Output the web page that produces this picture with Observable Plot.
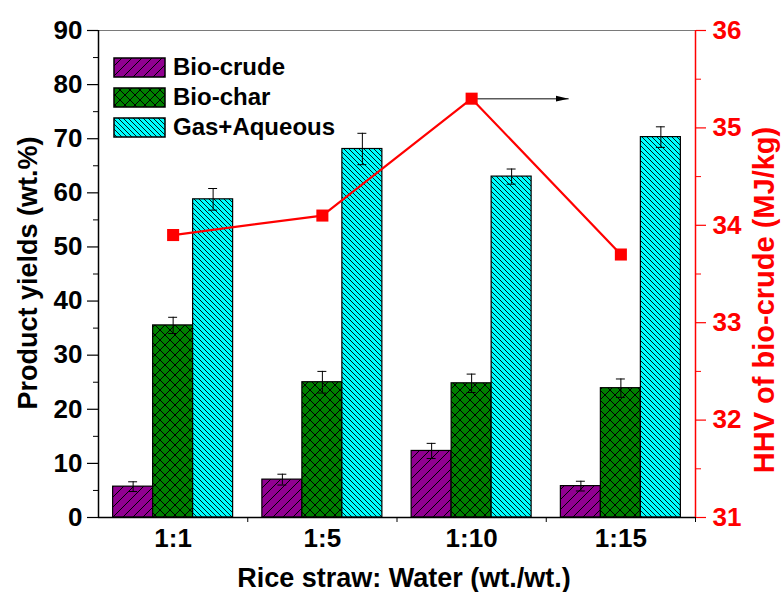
<!DOCTYPE html>
<html><head><meta charset="utf-8">
<script src="https://cdn.jsdelivr.net/npm/d3@7"></script>
<script src="https://cdn.jsdelivr.net/npm/@observablehq/plot@0.6"></script>
<style>
body{margin:0;background:#fff}
#chart svg{font-family:"Liberation Sans",Arial,sans-serif;}
</style>
</head><body><div id="chart"></div>
<script>
// ---- data ----
const ratios = ["1:1", "1:5", "1:10", "1:15"];
const seriesNames = ["Bio-crude", "Bio-char", "Gas+Aqueous"];
const bioCrude = [5.7, 7.0, 12.3, 5.8];
const bioCrudeErr = [0.9, 1.0, 1.4, 0.9];
const bioChar = [35.5, 25.0, 24.8, 23.9];
const bioCharErr = [1.5, 2.0, 1.7, 1.7];
const gasAqueous = [58.8, 68.1, 63.0, 70.3];
const gasAqueousErr = [2.0, 2.9, 1.4, 1.9];
const hhv = [33.9, 34.1, 35.3, 33.7];
const leftTicks = [0, 10, 20, 30, 40, 50, 60, 70, 80, 90];
const leftMinor = [5, 15, 25, 35, 45, 55, 65, 75, 85];
const rightTicks = [31, 32, 33, 34, 35, 36];
const rightMinor = [31.5, 32.5, 33.5, 34.5, 35.5];
const arrowEnd = 2.65; // group units, where the arrow to the right axis ends

// ---- derived tables ----
const barW = 0.268;
const values = [bioCrude, bioChar, gasAqueous];
const errs = [bioCrudeErr, bioCharErr, gasAqueousErr];
const patterns = ["url(#patCrude)", "url(#patChar)", "url(#patGas)"];
const bars = [];
seriesNames.forEach((s, k) => ratios.forEach((r, i) => {
  const x1 = i + (k - 1.5) * barW;
  bars.push({series: s, k, i, x1, x2: x1 + barW, xc: x1 + barW / 2, v: values[k][i], e: errs[k][i]});
}));
// right axis (HHV 31..36) mapped onto left axis (0..90)
const toLeft = v => (v - 31) * 18;
const fromLeft = y => y / 18 + 31;
const hhvRows = hhv.map((h, i) => ({i, y: toLeft(h)}));
const cap = 0.03;

const marks = [
  Plot.ruleY([90], {stroke: "#7a7a7a", strokeWidth: 1.2}),
  ...seriesNames.map((s, k) => Plot.rectY(bars.filter(d => d.k === k), {
    x1: "x1", x2: "x2", y1: 0, y2: "v", fill: patterns[k], stroke: "black", strokeWidth: 1.2
  })),
  Plot.ruleX(bars, {x: "xc", y1: d => d.v - d.e, y2: d => d.v + d.e, stroke: "black", strokeWidth: 1}),
  Plot.ruleY(bars, {y: d => d.v + d.e, x1: d => d.xc - cap, x2: d => d.xc + cap, stroke: "black", strokeWidth: 1}),
  Plot.ruleY(bars, {y: d => d.v - d.e, x1: d => d.xc - cap, x2: d => d.xc + cap, stroke: "black", strokeWidth: 1}),
  Plot.line(hhvRows, {x: "i", y: "y", stroke: "#ff0000", strokeWidth: 2.2}),
  Plot.link([{x1: 2, x2: arrowEnd, y: toLeft(hhv[2])}], {
    x1: "x1", x2: "x2", y1: "y", y2: "y", stroke: "#5a5a5a", strokeWidth: 1.5
  }),
  Plot.dot(hhvRows, {x: "i", y: "y", symbol: "square", r: 6.8, fill: "#ff0000", stroke: "none"}),
  // frame
  Plot.ruleX([-0.5], {stroke: "black", strokeWidth: 1.5}),
  Plot.ruleY([0], {stroke: "black", strokeWidth: 1.5}),
  Plot.ruleX([3.5], {stroke: "#ff0000", strokeWidth: 1.5}),
  // axes
  Plot.axisY(leftTicks, {anchor: "left", tickSize: 11, tickPadding: 5, tickFormat: d => d, strokeWidth: 1.2}),
  Plot.axisY(leftMinor, {anchor: "left", tickSize: 5, tickFormat: () => ""}),
  Plot.axisY(rightTicks.map(toLeft), {anchor: "right", tickSize: 10, tickPadding: 7, color: "#ff0000",
    tickFormat: y => Math.round(fromLeft(y)), strokeWidth: 1.2}),
  Plot.axisY(rightMinor.map(toLeft), {anchor: "right", tickSize: 5, color: "#ff0000", tickFormat: () => ""}),
  Plot.axisX([0, 1, 2, 3], {anchor: "bottom", tickSize: 0, tickPadding: 11, tickFormat: i => ratios[i]}),
  Plot.axisX([0.5, 1.5, 2.5, 3.5], {anchor: "bottom", tickSize: 5, tickFormat: () => ""})
];

const svg = Plot.plot({
  width: 781,
  height: 592,
  marginLeft: 98,
  marginRight: 86,
  marginTop: 30,
  marginBottom: 75,
  style: {fontSize: "26px", fontWeight: "bold", fontFamily: "'Liberation Sans', Arial, sans-serif", background: "white", overflow: "visible"},
  x: {type: "linear", domain: [-0.5, 3.5], axis: null},
  y: {domain: [0, 90], axis: null},
  marks
});

// patterns
const sel = d3.select(svg);
const defs = sel.insert("defs", ":first-child");
function pat(id, size, bg, d, sw) {
  const p = defs.append("pattern").attr("id", id).attr("patternUnits", "userSpaceOnUse")
    .attr("width", size).attr("height", size);
  p.append("rect").attr("width", size).attr("height", size).attr("fill", bg);
  p.append("path").attr("d", d).attr("stroke", "black").attr("stroke-width", sw).attr("fill", "none");
}
pat("patCrude", 10, "#910091", "M-1,1L1,-1M0,10L10,0M9,11L11,9", 1);
pat("patChar", 10, "#008000", "M-1,1L1,-1M0,10L10,0M9,11L11,9M-1,9L1,11M0,0L10,10M9,-1L11,1", 1);
pat("patGas", 5, "#00ffff", "M-1,4L1,6M0,0L5,5M4,-1L6,1", 0.9);
const mk = defs.append("marker").attr("id", "ahead").attr("markerUnits", "userSpaceOnUse")
  .attr("markerWidth", 14).attr("markerHeight", 7).attr("refX", 13).attr("refY", 3.5)
  .attr("orient", "auto").attr("viewBox", "0 0 14 7");
mk.append("path").attr("d", "M0,0.5L13,3.5L0,6.5Z").attr("fill", "black");
sel.selectAll('g[aria-label="link"] path').attr("marker-end", "url(#ahead)");

// legend
const leg = sel.append("g").attr("class", "legend");
seriesNames.forEach((s, k) => {
  const y = 58 + k * 30;
  leg.append("rect").attr("x", 114).attr("y", y).attr("width", 51).attr("height", 19)
    .attr("fill", patterns[k]).attr("stroke", "black").attr("stroke-width", 1.5);
  leg.append("text").attr("x", 173).attr("y", y + 17).attr("font-size", 24).attr("font-weight", "bold")
    .attr("text-anchor", "start").attr("fill", "black").text(s);
});

// axis titles
sel.append("text").attr("x", 404).attr("y", 587).attr("text-anchor", "middle")
  .attr("font-size", 27).attr("font-weight", "bold").attr("fill", "black").text("Rice straw: Water (wt./wt.)");
sel.append("text").attr("transform", "translate(37,273) rotate(-90)").attr("text-anchor", "middle")
  .attr("font-size", 27).attr("font-weight", "bold").attr("fill", "black").text("Product yields (wt.%)");
sel.append("text").attr("transform", "translate(774,300) rotate(-90)").attr("text-anchor", "middle")
  .attr("font-size", 29).attr("font-weight", "bold").attr("fill", "#ff0000").text("HHV of bio-crude (MJ/kg)");

document.getElementById("chart").appendChild(svg);
</script>
</body></html>
